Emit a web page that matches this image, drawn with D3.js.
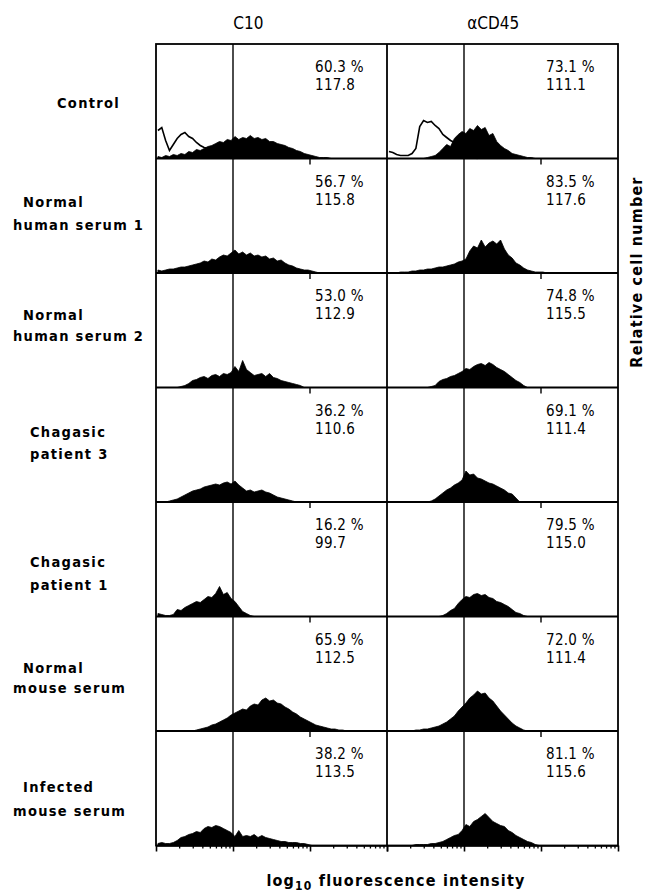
<!DOCTYPE html>
<html>
<head>
<meta charset="utf-8">
<script src="https://cdn.jsdelivr.net/npm/d3@7"></script>
<style>
  body { margin: 0; background: #fff; }
  svg { display: block; }
  .num { font-family: "DejaVu Sans Condensed", "DejaVu Sans", sans-serif; font-size: 15px; letter-spacing: 0.3px; fill: #000; }
  .lab { font-family: "DejaVu Sans Condensed", "DejaVu Sans", sans-serif; font-weight: bold; font-size: 14.5px; letter-spacing: 1.3px; fill: #000; }
  .head { font-family: "DejaVu Sans Condensed", "DejaVu Sans", sans-serif; font-size: 17px; fill: #000; }
  .title { font-family: "DejaVu Sans Condensed", "DejaVu Sans", sans-serif; font-weight: bold; font-size: 16px; letter-spacing: 1.2px; fill: #000; }
</style>
</head>
<body>
<svg id="chart" width="654" height="896"></svg>
<script>
// ---- data ----
const columns = ['C10', 'αCD45'];
const rowLabels = [
  ['Control'],
  ['Normal', 'human serum 1'],
  ['Normal', 'human serum 2'],
  ['Chagasic', 'patient 3'],
  ['Chagasic', 'patient 1'],
  ['Normal', 'mouse serum'],
  ['Infected', 'mouse serum']
];

const pctC10 = ['60.3', '56.7', '53.0', '36.2', '16.2', '65.9', '38.2'];
const meanC10 = ['117.8', '115.8', '112.9', '110.6', '99.7', '112.5', '113.5'];
const pctCD45 = ['73.1', '83.5', '74.8', '69.1', '79.5', '72.0', '81.1'];
const meanCD45 = ['111.1', '117.6', '115.5', '111.4', '115.0', '111.4', '115.6'];

// histogram counts, 60 channels per 3 decades (starting at channel 0)
const c10Ctrl = [2,1,3,2,4,3,5,4,7,6,9,8,10,12,13,15,17,16,19,18,22,19,21,20,23,20,21,19,20,17,17,15,14,13,11,10,8,7,5,4,3,2,1,1,1,0];
const c10CtrlOpen = [28,31,18,8,14,20,24,26,22,20,16,13,11,10,8,6,4,3,2,1,0];
const c10Nhs1 = [3,2,3,4,4,5,6,6,7,8,9,10,12,11,14,13,16,18,17,20,23,19,21,18,20,17,18,16,17,14,15,12,13,10,8,7,5,4,3,3,2,1,0];
const c10Nhs2 = [0,0,0,0,0,0,1,2,4,7,8,10,11,9,12,13,11,14,13,15,21,16,27,18,15,12,13,14,11,14,10,9,7,6,5,4,3,2,0];
const c10Chg3 = [0,0,0,1,2,3,5,7,9,11,12,13,15,16,17,18,17,19,20,18,21,17,14,11,12,10,11,12,10,9,7,5,4,3,2,1,0];
const c10Chg1 = [3,2,1,1,2,7,6,9,11,13,15,14,17,20,19,23,30,22,24,18,15,10,5,3,1,0];
const c10Nms = [0,0,0,0,0,0,0,0,0,0,1,2,3,4,6,7,9,11,13,16,18,20,22,21,25,27,26,31,33,30,31,28,27,24,22,19,17,14,12,10,8,6,5,4,3,2,2,1,1,0];
const c10Ims = [2,3,2,2,3,5,8,9,11,12,14,13,17,19,18,20,19,17,15,13,9,15,9,10,9,11,8,10,8,7,6,5,4,4,3,3,3,2,2,1,0];

const cdCtrl = [0,0,0,0,0,0,0,0,0,0,1,2,3,6,10,14,12,20,24,27,25,30,28,33,29,31,23,25,17,13,10,8,5,4,3,2,1,1,0];
const cdCtrlOpen = [7,6,4,3,3,3,5,10,32,38,36,37,33,30,24,21,18,16,14,10,6,3,1,0];
const cdNhs1 = [0,0,0,1,1,1,2,2,3,3,4,4,5,6,6,7,8,9,11,12,14,22,27,25,33,26,30,32,29,33,24,18,15,10,8,5,3,2,1,1,1,0];
const cdNhs2 = [0,0,0,0,0,0,0,0,0,0,0,1,2,6,8,9,11,12,14,16,19,18,21,23,24,22,25,23,20,18,16,13,10,7,5,2,0];
const cdChg3 = [0,0,0,0,0,0,0,0,0,0,0,1,3,6,9,12,14,17,19,22,31,27,28,24,23,21,19,18,16,14,12,9,8,4,0];
const cdChg1 = [0,0,0,0,0,0,0,0,0,0,0,0,0,0,1,3,6,8,13,17,20,19,22,23,21,22,19,18,15,14,12,10,7,4,3,1,0];
const cdNms = [0,0,0,0,0,0,0,1,1,2,2,3,4,5,7,9,12,15,20,24,28,33,36,40,37,38,33,30,25,20,16,12,8,5,3,1,0];
const cdIms = [0,0,0,0,0,0,0,1,1,1,1,2,2,3,4,6,8,10,11,15,21,19,24,26,29,32,28,24,22,20,19,15,13,10,8,6,4,3,1,0];

const histC10 = [c10Ctrl, c10Nhs1, c10Nhs2, c10Chg3, c10Chg1, c10Nms, c10Ims];
const histCD45 = [cdCtrl, cdNhs1, cdNhs2, cdChg3, cdChg1, cdNms, cdIms];
const openCurves = [c10CtrlOpen, cdCtrlOpen];

const nChannels = 60;
const decades = [1, 10, 100, 1000];
const gateValue = 10;

// ---- layout ----
const marginLeft = 156, marginTop = 44, colW = 231, rowH = 114.5;
const nRows = rowLabels.length;
const gridBottom = marginTop + nRows * rowH;
const labelDy = [[64], [48, 71], [47, 68], [49, 71], [65, 88], [56, 76], [61, 85]];

const svg = d3.select('#chart');
svg.append('rect').attr('width', 654).attr('height', 896).attr('fill', '#fff');

const x = d3.scaleLog().domain([1, 1000]).range([0, colW]);
const chan = d3.scaleLinear().domain([0, nChannels]).range([0, colW]);
const y = d3.scaleLinear().domain([0, rowH]).range([rowH, 0]);

const area = d3.area()
  .x((d, i) => chan(i + 0.5))
  .y0(y(0))
  .y1(d => y(d))
  .curve(d3.curveLinear);

const line = d3.line()
  .x((d, i) => chan(i + 0.5))
  .y(d => y(d))
  .curve(d3.curveLinear);

// column headers
svg.selectAll('.head')
  .data(columns)
  .enter()
  .append('text')
  .attr('class', 'head')
  .attr('x', (d, i) => marginLeft + colW * i + colW * (i === 0 ? 0.4 : 0.46))
  .attr('y', 29)
  .attr('text-anchor', 'middle')
  .text(d => d);

columns.forEach((col, ci) => {
  const hist = ci === 0 ? histC10 : histCD45;
  const pct = ci === 0 ? pctC10 : pctCD45;
  const mean = ci === 0 ? meanC10 : meanCD45;

  const panel = svg.selectAll('.p' + ci)
    .data(hist)
    .enter()
    .append('g')
    .attr('class', 'p' + ci)
    .attr('transform', (d, i) => 'translate(' + (marginLeft + ci * colW) + ',' + (marginTop + i * rowH) + ')');

  // control (open) histogram underneath
  panel.filter((d, i) => i === 0)
    .append('path')
    .datum(openCurves[ci])
    .attr('d', line)
    .attr('fill', 'none')
    .attr('stroke', '#000')
    .attr('stroke-width', 1.6);

  panel.append('path')
    .attr('d', d => area(d))
    .attr('fill', '#000')
    .attr('stroke', '#000')
    .attr('stroke-width', 0.8)
    .attr('stroke-linejoin', 'miter');

  // gate marker
  panel.append('line')
    .attr('x1', x(gateValue)).attr('x2', x(gateValue))
    .attr('y1', 0).attr('y2', rowH)
    .attr('stroke', '#000').attr('stroke-width', 1.4);

  // decade tick at top of each panel
  panel.filter((d, i) => i > 0)
    .append('line')
    .attr('x1', x(100)).attr('x2', x(100))
    .attr('y1', 0).attr('y2', 6)
    .attr('stroke', '#000').attr('stroke-width', 1.4);

  panel.append('text')
    .attr('class', 'num')
    .attr('x', 159)
    .attr('y', 28)
    .text((d, i) => pct[i] + '  %');

  panel.append('text')
    .attr('class', 'num')
    .attr('x', 159)
    .attr('y', 46)
    .text((d, i) => mean[i]);

  // bottom log axis
  const minors = [];
  decades.slice(0, 3).forEach(dv => {
    for (let k = 2; k <= 9; k++) minors.push(dv * k);
  });
  const axisG = svg.append('g')
    .attr('transform', 'translate(' + (marginLeft + ci * colW) + ',' + gridBottom + ')');
  axisG.append('g')
    .call(d3.axisBottom(x).tickValues(decades).tickFormat('').tickSize(6).tickSizeOuter(0))
    .call(g => g.selectAll('line, path').attr('stroke-width', 1.6));
  axisG.append('g')
    .call(d3.axisBottom(x).tickValues(minors).tickFormat('').tickSize(3).tickSizeOuter(0))
    .call(g => g.select('.domain').remove())
    .call(g => g.selectAll('line').attr('stroke-width', 1.3));
});

// panel frame
const frame = svg.append('g')
  .attr('fill', 'none')
  .attr('stroke', '#000')
  .attr('stroke-width', 1.8);
frame.append('rect')
  .attr('x', marginLeft).attr('y', marginTop)
  .attr('width', colW * 2).attr('height', nRows * rowH);
frame.append('line')
  .attr('x1', marginLeft + colW).attr('x2', marginLeft + colW)
  .attr('y1', marginTop).attr('y2', gridBottom);
frame.selectAll('.rowline')
  .data(d3.range(1, nRows))
  .enter()
  .append('line')
  .attr('x1', marginLeft).attr('x2', marginLeft + 2 * colW)
  .attr('y1', d => marginTop + d * rowH).attr('y2', d => marginTop + d * rowH);

// row labels
const indent = s => {
  if (s === 'Control') return 57;
  if (s.startsWith('human') || s.startsWith('mouse')) return 13;
  if (s === 'Chagasic' || s.startsWith('patient')) return 30;
  return 23;
};
rowLabels.forEach((lines, r) => {
  svg.append('g')
    .selectAll('text')
    .data(lines)
    .enter()
    .append('text')
    .attr('class', 'lab')
    .attr('x', d => indent(d))
    .attr('y', (d, i) => marginTop + r * rowH + labelDy[r][i])
    .text(d => d);
});

// axis titles
const xt = svg.append('text')
  .attr('class', 'title')
  .attr('x', 396)
  .attr('y', 886)
  .attr('text-anchor', 'middle');
xt.append('tspan').text('log');
xt.append('tspan').attr('font-size', 12).attr('dy', 4).text('10');
xt.append('tspan').attr('dy', -4).text(' fluorescence intensity');

svg.append('text')
  .attr('class', 'title')
  .attr('transform', 'translate(642,272) rotate(-90)')
  .attr('text-anchor', 'middle')
  .text('Relative cell number');
</script>
</body>
</html>
